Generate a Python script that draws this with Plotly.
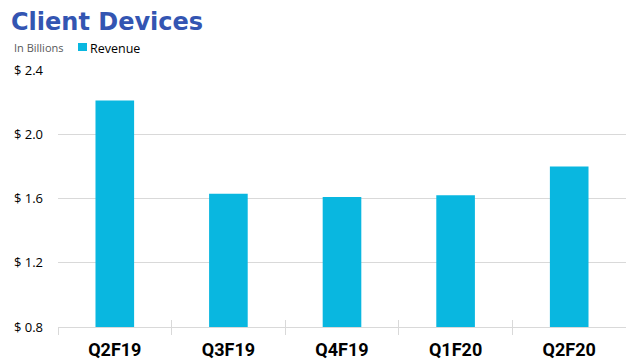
import plotly.graph_objects as go

categories = ["Q2F19", "Q3F19", "Q4F19", "Q1F20", "Q2F20"]
revenue = [2.21, 1.63, 1.61, 1.62, 1.80]
ytick_vals = [0.8, 1.2, 1.6, 2.0, 2.4]
ytick_text = ["$ 0.8", "$ 1.2", "$ 1.6", "$ 2.0", "$ 2.4"]
series_name = "Revenue"

BAR = "#09B7E0"
OFF = 8  # page body margin of the html page
W, H = 634 - OFF, 363 - OFF
L, R, T, B = 58 - OFF, 8, 70 - OFF, 36
PW, PH = W - L - R, H - T - B


def px_x(x):
    return (x - OFF - L) / PW


def px_y(y):
    return (H - B - (y - OFF)) / PH


fig = go.Figure()
fig.add_trace(go.Bar(x=categories, y=revenue, name=series_name, marker_color=BAR,
                     marker_line_width=0, showlegend=False))
# invisible overlay trace to draw inside tick marks on the category axis
fig.add_trace(go.Bar(x=categories, y=[None]*len(categories), xaxis="x2",
                     showlegend=False, hoverinfo="skip"))

fig.update_layout(
    width=W, height=H,
    margin=dict(l=L, r=R, t=T, b=B, autoexpand=False),
    paper_bgcolor="white", plot_bgcolor="white",
    bargap=0.66,
    font=dict(family="Open Sans, Liberation Sans, sans-serif", color="#000000"),
    showlegend=False,
    xaxis=dict(type="category", showgrid=False, showline=True, linecolor="#d9d9d9",
               linewidth=1, ticks="outside", ticklen=7, tickcolor="#d9d9d9",
               tickson="boundaries", ticklabelstandoff=6,
               tickfont=dict(size=18, family="Liberation Sans Narrow, Roboto, sans-serif",
                             color="#000000", weight="bold"),
               range=[-0.5, 4.5]),
    xaxis2=dict(type="category", overlaying="x", matches="x", showgrid=False, showline=False,
                ticks="inside", ticklen=7, tickcolor="#d9d9d9", tickson="boundaries",
                showticklabels=False, range=[-0.5, 4.5]),
    yaxis=dict(range=[0.8, 2.4], tickvals=ytick_vals, ticktext=ytick_text,
               showgrid=True, gridcolor="#d9d9d9", gridwidth=1, zeroline=False,
               showline=False, ticks="", ticklabelstandoff=14,
               tickfont=dict(size=13, color="#000000", family="Open Sans, sans-serif")),
    shapes=[
        dict(type="rect", xref="paper", yref="paper",
             x0=px_x(78), x1=px_x(87), y0=px_y(51), y1=px_y(43),
             fillcolor=BAR, line=dict(width=0)),
    ],
    annotations=[
        dict(text="<b>Client Devices</b>", xref="paper", yref="paper", x=px_x(9), y=px_y(21.5),
             xanchor="left", yanchor="middle", showarrow=False,
             font=dict(size=24, color="#3355B2", family="DejaVu Sans, Verdana, sans-serif")),
        dict(text="In Billions", xref="paper", yref="paper", x=px_x(12), y=px_y(47),
             xanchor="left", yanchor="middle", showarrow=False,
             font=dict(size=11, color="#595959", family="Open Sans, sans-serif")),
        dict(text=series_name, xref="paper", yref="paper", x=px_x(88), y=px_y(48),
             xanchor="left", yanchor="middle", showarrow=False,
             font=dict(size=12.5, color="#000000", family="Open Sans, sans-serif")),
    ],
)

fig.write_html("out.html")
